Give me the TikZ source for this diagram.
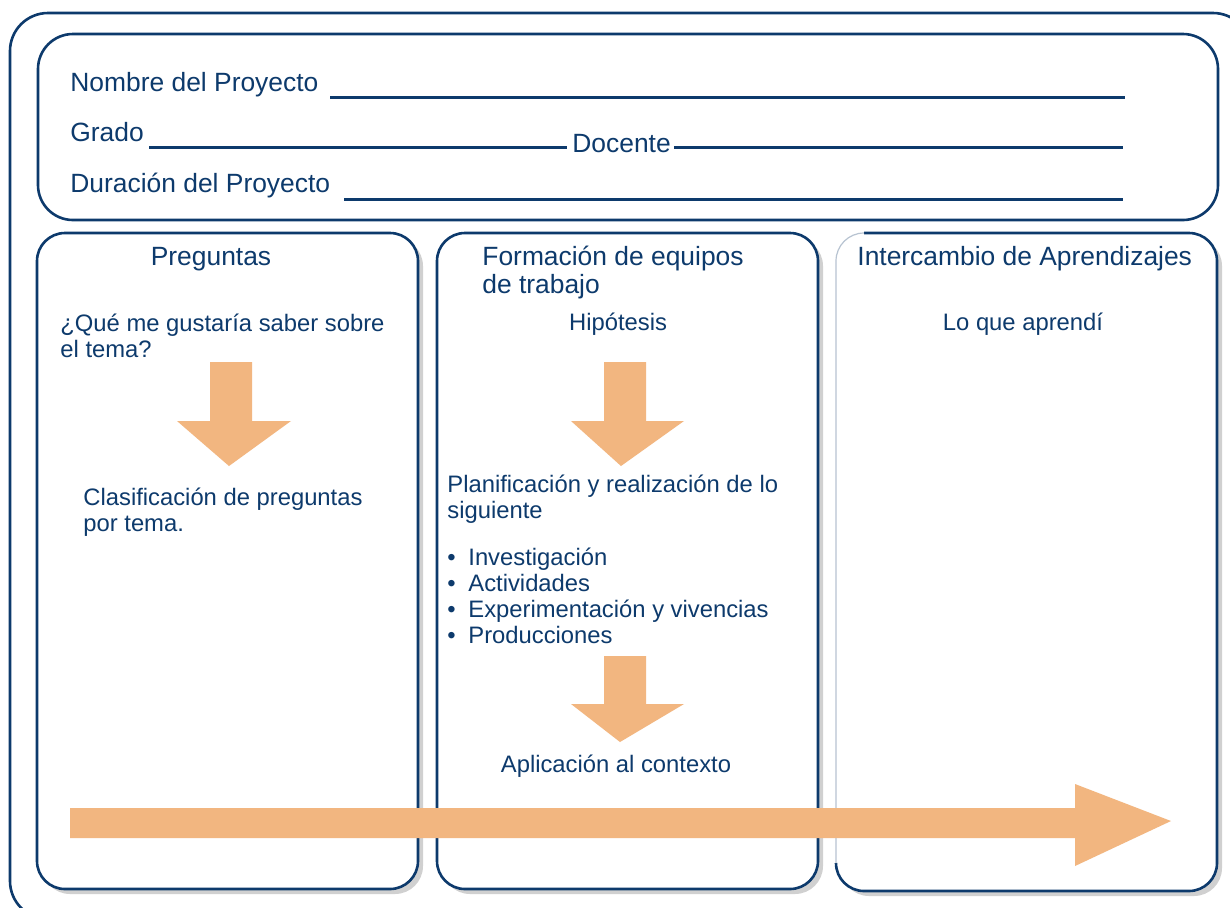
\documentclass[tikz,border=0pt]{standalone}
\usepackage{fontspec}
\setmainfont{Liberation Sans}
\usetikzlibrary{shadows}

\definecolor{navy}{HTML}{0D3A6C}
\definecolor{peach}{HTML}{F2B680}
\definecolor{paleedge}{HTML}{B7C3D1}

\tikzset{
  box/.style={draw=navy, line width=1.3pt, fill=white},
  colbox/.style={box, rounded corners=14pt,
    drop shadow={shadow xshift=2.5pt, shadow yshift=-2.5pt, opacity=0.3, fill=black!60}},
  title/.style={text=navy, font=\fontsize{13.2}{14}\selectfont, inner sep=0pt, align=left},
  body/.style={text=navy, font=\fontsize{11.9}{12.9}\selectfont, inner sep=0pt, align=left},
  fatarrow/.style={fill=peach}
}

\begin{document}
\begin{tikzpicture}[x=0.5pt, y=-0.5pt]
\useasboundingbox (0,0) rectangle (1230,907);
\clip (0,0) rectangle (1230,907);
\fill[white] (0,0) rectangle (1230,907);

% frame and header
\draw[navy, line width=1.3pt, rounded corners=19pt] (10,13) rectangle (1251,919);
\draw[box, rounded corners=17.5pt] (38,34) rectangle (1218,220);

\node[title, anchor=base west] (nombre)   at (70,91)  {Nombre del Proyecto};
\node[title, anchor=base west] (grado)    at (70,141) {Grado};
\node[title, anchor=base west] (docente)  at (572,152) {Docente};
\node[title, anchor=base west] (duracion) at (70,192) {Duración del Proyecto};

\begin{scope}[navy, line width=1.5pt]
\draw (330,97) -- (1125,97);
\draw (149,147) -- (567,147);
\draw (674,147) -- (1123,147);
\draw (344,199) -- (1123,199);
\end{scope}

% columns
\path[colbox] (37,233) rectangle (418,889);
\path[colbox] (437,233) rectangle (818,889);
\path[colbox, draw=none] (836,233) rectangle (1217,891);
\draw[navy, line width=1.3pt, rounded corners=14pt]
  (836,863) -- (836,891) -- (1217,891) -- (1217,233) -- (864,233);
\draw[paleedge, line width=0.6pt, rounded corners=14pt]
  (864,233) -- (836,233) -- (836,863);

% multi-line nodes sit on the baseline of their last line
\node[title, anchor=base] (preg) at (211,265) {Preguntas};
\node[title, anchor=base west] (equipos) at (482,293) {Formación de equipos\\de trabajo};
\node[title, anchor=base west] (intercambio) at (857,265) {Intercambio de Aprendizajes};

\node[body, anchor=base west] (saber) at (60,357) {¿Qué me gustaría saber sobre\\el tema?};
\node[body, anchor=base west] (clasif) at (83,531) {Clasificación de preguntas\\por tema.};

\node[body, anchor=base] (hipo) at (618,330) {Hipótesis};
\node[body, anchor=base west] (plan) at (447,518) {Planificación y realización de lo\\siguiente};
\node[body, anchor=base west] (lista) at (447,643)
  {\makebox[10.5pt][l]{•}Investigación\\
   \makebox[10.5pt][l]{•}Actividades\\
   \makebox[10.5pt][l]{•}Experimentación y vivencias\\
   \makebox[10.5pt][l]{•}Producciones};
\node[body, anchor=base] (aplic) at (616,772) {Aplicación al contexto};

\node[body, anchor=base] (aprendi) at (1023,330) {Lo que aprendí};

% arrows
\begin{scope}[fatarrow]
\fill (210,362) -- (252,362) -- (252,421) -- (291,421) -- (229,466) -- (177,421) -- (210,421) -- cycle;
\fill (604,362) -- (646,362) -- (646,421) -- (684,421) -- (621,466) -- (571,421) -- (604,421) -- cycle;
\fill (604,656) -- (646,656) -- (646,704) -- (684,704) -- (620,742) -- (571,704) -- (604,704) -- cycle;
\fill (70,808) -- (1075,808) -- (1075,784) -- (1171,821) -- (1075,866) -- (1075,838) -- (70,838) -- cycle;
\end{scope}

\end{tikzpicture}
\end{document}
